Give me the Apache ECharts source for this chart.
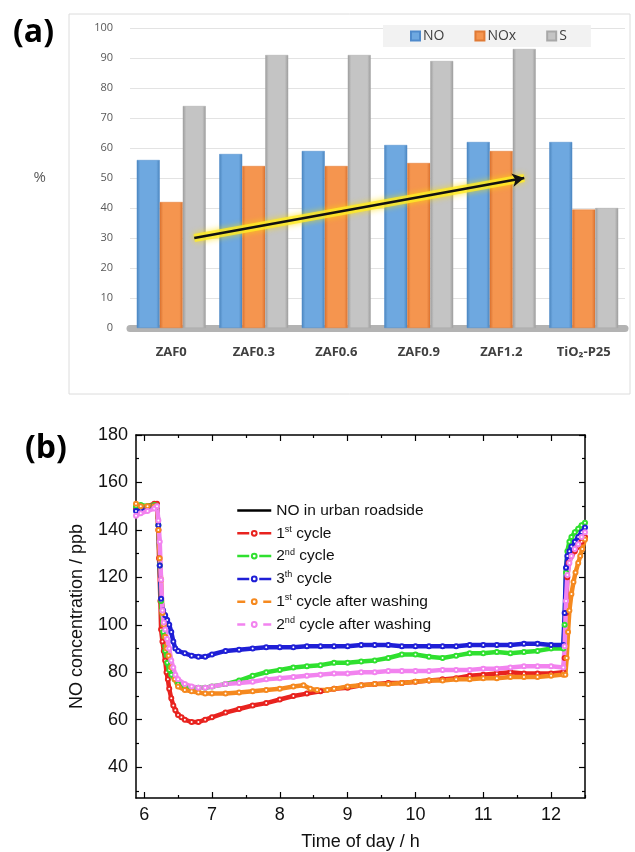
<!DOCTYPE html>
<html>
<head>
<meta charset="utf-8">
<script src="https://cdn.jsdelivr.net/npm/echarts@6.0.0/dist/echarts.min.js"></script>
<style>
  html, body { margin: 0; padding: 0; background: #fff; }
  #chart { width: 635px; height: 852px; }
</style>
</head>
<body>
<div id="chart"></div>
<script>
// ---- (a) bar chart data ----
const samples = ['ZAF0', 'ZAF0.3', 'ZAF0.6', 'ZAF0.9', 'ZAF1.2', 'TiO₂-P25']
const noValues  = [56, 58, 59, 61, 62, 62]
const noxValues = [42, 54, 54, 55, 59, 39.5]
const sValues   = [74, 91, 91, 89, 93, 40]
const percentTicks = [0, 10, 20, 30, 40, 50, 60, 70, 80, 90, 100]

// ---- (b) NO concentration vs time of day, [hour, ppb] ----
const hourTicks = [6, 7, 8, 9, 10, 11, 12]
const hourMinor = [6.5, 7.5, 8.5, 9.5, 10.5, 11.5, 12.5]
const ppbTicks  = [40, 60, 80, 100, 120, 140, 160, 180]
const ppbMinor  = [30, 50, 70, 90, 110, 130, 150, 170]

const cycle1 = [[5.88,149],[5.95,149.5],[6.05,150],[6.15,151],[6.19,151],[6.21,140],[6.22,128],[6.24,110],[6.25,98],[6.27,93],[6.29,89],[6.31,85],[6.33,80],[6.35,77],[6.37,73],[6.4,69],[6.43,66],[6.46,64],[6.5,62],[6.55,61],[6.6,60],[6.7,59],[6.8,59],[6.9,60],[7.0,61],[7.2,63],[7.4,64.5],[7.6,66],[7.8,67],[8.0,68.5],[8.2,70],[8.4,71],[8.6,72],[8.8,73],[9.0,73.5],[9.2,74.5],[9.4,75],[9.6,75.5],[9.8,75.5],[10.0,76],[10.2,76.5],[10.4,77],[10.6,77.5],[10.8,78.5],[11.0,79],[11.2,79.5],[11.4,80],[11.6,79.5],[11.8,79.5],[12.0,79.5],[12.18,80],[12.2,86],[12.22,105],[12.24,120],[12.26,126],[12.3,129],[12.35,131],[12.4,133],[12.45,135],[12.5,137]]
const cycle2 = [[5.88,150],[5.95,150.5],[6.05,150],[6.15,150.5],[6.19,150],[6.21,142],[6.23,125],[6.25,110],[6.28,97],[6.31,89],[6.34,84],[6.37,81],[6.4,79],[6.45,77],[6.5,75],[6.6,74],[6.7,73.5],[6.8,73.5],[6.9,73.5],[7.0,74],[7.2,75],[7.4,76.5],[7.6,78.5],[7.8,80],[8.0,81],[8.2,82],[8.4,82.5],[8.6,83],[8.8,84],[9.0,84],[9.2,84.5],[9.4,85],[9.6,86],[9.8,87.5],[10.0,87.5],[10.2,86.5],[10.4,86],[10.6,87],[10.8,88],[11.0,88],[11.2,88.5],[11.4,88],[11.6,88.5],[11.8,89],[12.0,90],[12.18,90],[12.2,100],[12.22,122],[12.24,131],[12.27,135],[12.3,137],[12.35,139],[12.4,140.5],[12.45,142],[12.5,143]]
const cycle3 = [[5.88,148],[5.95,149],[6.05,149.5],[6.15,150],[6.19,150],[6.21,142],[6.23,125],[6.25,111],[6.28,106],[6.31,104],[6.34,102],[6.37,100],[6.4,97],[6.43,93],[6.46,90],[6.5,89],[6.6,88],[6.7,87],[6.8,86.5],[6.9,86.5],[7.0,87.5],[7.2,89],[7.4,89.5],[7.6,90],[7.8,90.5],[8.0,90.5],[8.2,90.5],[8.4,91],[8.6,91],[8.8,91],[9.0,91],[9.2,91.5],[9.4,91.5],[9.6,91.5],[9.8,91],[10.0,91],[10.2,91],[10.4,91],[10.6,91],[10.8,91.5],[11.0,91.5],[11.2,91.5],[11.4,91.5],[11.6,92],[11.8,92],[12.0,91.5],[12.18,91.5],[12.2,105],[12.22,124],[12.24,129],[12.27,131],[12.3,133],[12.35,135],[12.4,137],[12.45,139],[12.5,141]]
const washed1 = [[5.88,151],[5.95,150],[6.05,150],[6.15,150],[6.19,150],[6.21,140],[6.23,128],[6.25,119],[6.27,105],[6.29,100],[6.31,95],[6.33,90],[6.36,87],[6.4,82],[6.45,77],[6.5,74],[6.6,72.5],[6.7,72],[6.8,71.5],[6.9,71],[7.0,71],[7.2,71],[7.4,71.5],[7.6,72],[7.8,72.5],[8.0,73],[8.2,74],[8.35,74.5],[8.45,73],[8.55,72.5],[8.7,72.5],[8.8,73],[9.0,74],[9.2,74.5],[9.4,75],[9.6,75],[9.8,75.5],[10.0,76],[10.2,76.5],[10.4,76.5],[10.6,77],[10.8,77],[11.0,77.5],[11.2,77.5],[11.4,78],[11.6,78],[11.8,78],[12.0,78.5],[12.18,79],[12.21,79],[12.23,86],[12.25,97],[12.27,106],[12.3,113],[12.33,118],[12.36,122],[12.4,126],[12.43,129],[12.46,132],[12.5,136]]
const washed2 = [[5.88,146],[5.95,147],[6.05,148],[6.15,149],[6.19,150],[6.21,144],[6.23,135],[6.25,119],[6.27,106],[6.29,101],[6.31,98],[6.34,94],[6.37,90],[6.4,85],[6.43,82],[6.46,79],[6.5,77],[6.6,75],[6.7,74],[6.8,73.5],[6.9,73.5],[7.0,74],[7.2,75],[7.4,75.5],[7.6,76],[7.8,77],[8.0,77.5],[8.2,78],[8.4,78.5],[8.6,79],[8.8,79.5],[9.0,79.5],[9.2,80],[9.4,80],[9.6,80.5],[9.8,80.5],[10.0,80.5],[10.2,80.5],[10.4,81],[10.6,81],[10.8,81],[11.0,81.5],[11.2,81.5],[11.4,82],[11.6,82.5],[11.8,82.5],[12.0,82.5],[12.18,82],[12.2,91],[12.22,110],[12.24,121],[12.27,126],[12.3,129],[12.35,132],[12.4,134],[12.45,137],[12.5,139]]

const FONT = 'Liberation Sans'

function barColor(light, dark) {
  return {
    type: 'linear', x: 0, y: 0, x2: 1, y2: 0,
    colorStops: [
      { offset: 0, color: dark },
      { offset: 0.15, color: light },
      { offset: 0.85, color: light },
      { offset: 1, color: dark },
    ],
  }
}

function lineSeries(name, data, color) {
  return {
    name, type: 'line', data,
    xAxisIndex: 1, yAxisIndex: 1,
    symbol: 'emptyCircle', symbolSize: 4, showSymbol: true,
    lineStyle: { color, width: 4.5 },
    itemStyle: { color, borderWidth: 1 },
    silent: true, animation: false,
  }
}

// axes of panel (b): main + mirrored/minor tick axes
function tickAxis(pos, gridIndex, min, max, ticks, len, extra) {
  return Object.assign({
    type: 'value', gridIndex, position: pos, min, max,
    axisLine: { show: true, lineStyle: { color: '#000', width: 1.5 } },
    axisTick: { show: true, inside: true, length: len, customValues: ticks, lineStyle: { color: '#000', width: 1.2 } },
    axisLabel: { show: false },
    splitLine: { show: false },
  }, extra || {})
}

const supify = (name) => name.replace(/^(\d)(st|nd|th)/, '$1{sup|$2}')

const option = {
  backgroundColor: '#fff',
  animation: false,
  title: [
    { text: '(a)', left: 8, top: 12, textStyle: { fontFamily: 'Open Sans', fontSize: 32, fontWeight: 'bold', color: '#000' } },
    { text: '(b)', left: 20, top: 428, textStyle: { fontFamily: 'Open Sans', fontSize: 32, fontWeight: 'bold', color: '#000' } },
  ],
  graphic: [
    { type: 'rect', shape: { x: 69, y: 14, width: 561, height: 380 }, style: { fill: 'none', stroke: '#dcdcdc', lineWidth: 1 }, z: -1 },
  ],
  legend: [
    {
      data: ['NO', 'NOx', 'S'],
      left: 383, top: 25, width: 207,
      backgroundColor: '#f2f2f2', padding: [4, 24, 4, 27],
      icon: 'rect', itemWidth: 9, itemHeight: 9, itemGap: 30,
      textStyle: { fontFamily: 'Open Sans', fontSize: 14, color: '#404040', padding: [0, 0, 0, -2] },
    },
    {
      data: [
        { name: 'NO in urban roadside', lineStyle: { type: 'solid', color: '#000' }, itemStyle: { color: 'rgba(0,0,0,0)', borderWidth: 0 } },
        { name: '1st cycle', lineStyle: { type: [12, 10] } },
        { name: '2nd cycle', lineStyle: { type: [12, 10] } },
        { name: '3th cycle', lineStyle: { type: [12, 10] } },
        { name: '1st cycle after washing', lineStyle: { type: [8, 18] } },
        { name: '2nd cycle after washing', lineStyle: { type: [8, 18] } },
      ],
      orient: 'vertical', left: 231, top: 497,
      itemWidth: 34, itemHeight: 6, itemGap: 5.8,
      lineStyle: { width: 2.5 },
      itemStyle: { borderWidth: 1.2 },
      formatter: supify,
      textStyle: {
        fontFamily: FONT, fontSize: 15.5, color: '#111', lineHeight: 17,
        rich: { sup: { fontFamily: FONT, fontSize: 9, lineHeight: 17, verticalAlign: 'top', color: '#111' } },
      },
    },
  ],
  grid: [
    { left: 130, top: 28, width: 495, height: 300 },
    { left: 136, top: 435, width: 449, height: 363 },
  ],
  xAxis: [
    {
      type: 'category', gridIndex: 0, data: samples,
      axisLine: { show: true, lineStyle: { color: '#b3b3b3', width: 7 } },
      axisTick: { show: false },
      axisLabel: { margin: 18, fontFamily: 'Open Sans', fontSize: 13, fontWeight: 'bold', color: '#404040' },
    },
    tickAxis('bottom', 1, 5.88, 12.5, hourTicks, 6, {
      axisLabel: { show: true, customValues: hourTicks, margin: 8, fontFamily: FONT, fontSize: 18, color: '#111' },
      name: 'Time of day / h', nameLocation: 'middle', nameGap: 35,
      nameTextStyle: { fontFamily: FONT, fontSize: 18, color: '#111' },
    }),
    tickAxis('bottom', 1, 5.88, 12.5, hourMinor, 3, { axisLine: { show: false } }),
    tickAxis('top', 1, 5.88, 12.5, hourTicks, 6),
    tickAxis('top', 1, 5.88, 12.5, hourMinor, 3, { axisLine: { show: false } }),
  ],
  yAxis: [
    {
      type: 'value', gridIndex: 0, min: 0, max: 100, interval: 10,
      name: '%', nameLocation: 'middle', nameRotate: 0, nameGap: 84,
      nameTextStyle: { fontFamily: 'Open Sans', fontSize: 15, color: '#595959' },
      axisLine: { show: false }, axisTick: { show: false },
      axisLabel: { margin: 17, fontFamily: 'Open Sans', fontSize: 11, color: '#595959', customValues: percentTicks },
      splitLine: { lineStyle: { color: '#e3e3e3' } },
    },
    tickAxis('left', 1, 27, 180, ppbTicks, 6, {
      axisLabel: { show: true, customValues: ppbTicks, margin: 8, fontFamily: FONT, fontSize: 18, color: '#111' },
      name: 'NO concentration / ppb', nameLocation: 'middle', nameGap: 50,
      nameTextStyle: { fontFamily: FONT, fontSize: 18, color: '#111' },
    }),
    tickAxis('left', 1, 27, 180, ppbMinor, 3, { axisLine: { show: false } }),
    tickAxis('right', 1, 27, 180, ppbTicks, 6),
    tickAxis('right', 1, 27, 180, ppbMinor, 3, { axisLine: { show: false } }),
  ],
  series: [
    {
      name: 'NO', type: 'bar', xAxisIndex: 0, yAxisIndex: 0, data: noValues,
      barWidth: 23, barGap: '0%',
      itemStyle: { color: barColor('#6ea8e0', '#4a84bd'), borderColor: '#4f8acb', borderWidth: 0.5 },
    },
    {
      name: 'NOx', type: 'bar', xAxisIndex: 0, yAxisIndex: 0, data: noxValues,
      barWidth: 23, barGap: '0%',
      itemStyle: { color: barColor('#f5954f', '#d8702f'), borderColor: '#e07a35', borderWidth: 0.5 },
    },
    {
      name: 'S', type: 'bar', xAxisIndex: 0, yAxisIndex: 0, data: sValues,
      barWidth: 23, barGap: '0%',
      itemStyle: { color: barColor('#c4c4c4', '#9a9a9a'), borderColor: '#a8a8a8', borderWidth: 0.5 },
      markLine: {
        silent: true, z: 10,
        symbol: ['none', 'arrow'], symbolSize: [10, 12],
        label: { show: false },
        data: [
          [
            { coord: ['ZAF0', 30], symbol: 'none', lineStyle: { color: 'rgba(255,236,40,0.8)', width: 8, type: 'solid', shadowColor: 'rgba(255,220,0,0.9)', shadowBlur: 6 } },
            { coord: ['ZAF1.2', 50], symbol: 'none' },
          ],
          [
            { coord: ['ZAF0', 30], lineStyle: { color: '#111', width: 2.5, type: 'solid' } },
            { coord: ['ZAF1.2', 50] },
          ],
        ],
      },
    },
    {
      name: 'NO in urban roadside', type: 'line', xAxisIndex: 1, yAxisIndex: 1, data: [],
      symbol: 'none', lineStyle: { color: '#000', width: 2 }, itemStyle: { color: '#000' },
    },
    lineSeries('1st cycle', cycle1, '#e8231f'),
    lineSeries('2nd cycle', cycle2, '#2fe02f'),
    lineSeries('3th cycle', cycle3, '#1f1fd6'),
    lineSeries('1st cycle after washing', washed1, '#f5891f'),
    lineSeries('2nd cycle after washing', washed2, '#f283ef'),
  ],
}

const chart = echarts.init(document.getElementById('chart'))
chart.setOption(option)
</script>
</body>
</html>
